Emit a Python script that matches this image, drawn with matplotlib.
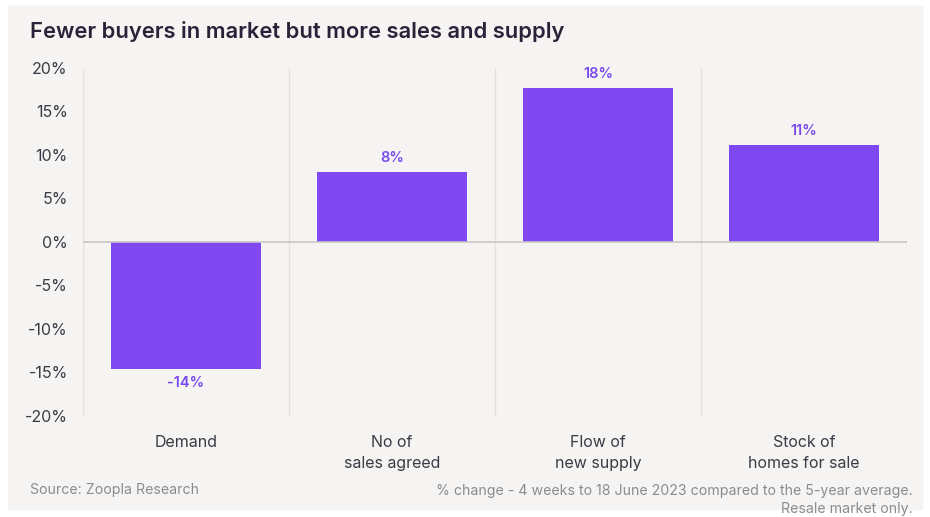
import matplotlib.pyplot as plt
from matplotlib.patches import Rectangle

categories = ['Demand', 'No of\nsales agreed', 'Flow of\nnew supply', 'Stock of\nhomes for sale']
values = [-14.6, 8.1, 17.7, 11.1]
value_labels = ['-14%', '8%', '18%', '11%']
yticks = [-20, -15, -10, -5, 0, 5, 10, 15, 20]

purple = '#7f48f0'
label_purple = '#7a4aed'
dark = '#2a2238'
grey_text = '#3c3a45'
panel = '#f5f4f3'

plt.rcParams['font.family'] = ['Inter', 'DejaVu Sans']

W, H = 930, 517
fig = plt.figure(figsize=(W / 100, H / 100), dpi=100)
fig.patch.set_facecolor('white')
fig.patches.append(Rectangle((8 / W, 8 / H), 1 - 16 / W, 1 - 14 / H,
                             transform=fig.transFigure, color=panel, zorder=-5))

ax = fig.add_axes([83 / W, 1 - 416 / H, (907 - 83) / W, (416 - 68) / H])
ax.set_facecolor(panel)

x = range(len(categories))
ax.bar(x, values, width=0.73, color=purple, zorder=3)

for i, (v, lab) in enumerate(zip(values, value_labels)):
    if v >= 0:
        ax.annotate(lab, (i, v), xytext=(0, 5), textcoords='offset points',
                    ha='center', va='bottom', color=label_purple, fontsize=10.5,
                    fontweight='semibold')
    else:
        ax.annotate(lab, (i, v), xytext=(0, -5), textcoords='offset points',
                    ha='center', va='top', color=label_purple, fontsize=10.5,
                    fontweight='semibold')

ax.set_xlim(-0.5, len(categories) - 0.5)
ax.set_ylim(-20, 20)
ax.set_yticks(yticks)
ax.set_yticklabels([f'{t}%' for t in yticks])
ax.set_xticks(list(x))
ax.set_xticklabels(categories, linespacing=1.45)
ax.tick_params(axis='y', length=0, pad=11, labelsize=11.5, labelcolor=grey_text)
ax.tick_params(axis='x', length=0, pad=14, labelsize=11.5, labelcolor=grey_text)

for b in [-0.5, 0.5, 1.5, 2.5, 3.5]:
    ax.axvline(b, color='#e3e2e1', lw=1, zorder=1)
ax.axhline(0, color='#c8c7c6', lw=1.2, zorder=4)

for s in ax.spines.values():
    s.set_visible(False)

fig.text(30 / W, 1 - 31 / H, 'Fewer buyers in market but more sales and supply',
         fontsize=15.8, fontweight='semibold', color=dark, va='center', ha='left')
fig.text(30 / W, 1 - 490 / H, 'Source: Zoopla Research', fontsize=10.2,
         color='#8c8b8f', va='center', ha='left')
fig.text(913 / W, 1 - 491 / H, '% change - 4 weeks to 18 June 2023 compared to the 5-year average.',
         fontsize=10.2, color='#8c8b8f', va='center', ha='right')
fig.text(913 / W, 1 - 509 / H, 'Resale market only.', fontsize=10.2,
         color='#8c8b8f', va='center', ha='right')

fig.savefig('out.png', dpi=100)
